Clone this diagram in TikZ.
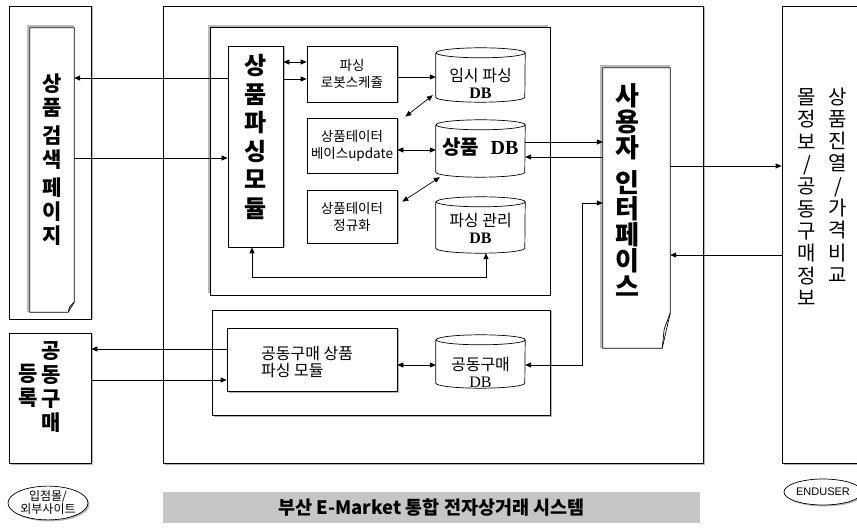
\documentclass[tikz,border=0pt]{standalone}
\usepackage{fontspec}
\setmainfont{Noto Sans CJK KR}
\newfontfamily\figmarketserif{Liberation Serif}
\newfontfamily\figmarketsans{Liberation Sans}
\usetikzlibrary{arrows.meta}
\usetikzlibrary{calc}
\usetikzlibrary{shapes.geometric}
\usetikzlibrary{shadows}

\begin{document}
\begin{tikzpicture}[x=1pt,y=-1pt,
        box/.style={draw,line width=0.7pt,fill=white,inner sep=0pt,align=center},
        boxshadow/.style={general shadow={fill=gray!55,shadow xshift=1.5pt,shadow yshift=-1.5pt}},
        frameshadow/.style={general shadow={fill=gray!55,shadow xshift=-2pt,shadow yshift=2pt}},
        ghost/.style={inner sep=0pt},
        txt/.style={inner sep=0pt,align=center},
        flow/.style={line width=0.7pt,-{Triangle[length=6pt,width=5pt]}},
        twoway/.style={line width=0.7pt,{Triangle[length=6pt,width=5pt]}-{Triangle[length=6pt,width=5pt]}}]
        \newcommand{\figmarketdbrad}{44.5pt}
        \newcommand{\figmarketdbcap}{5pt}
        \newcommand{\figmarketbig}{\bfseries\fontsize{24}{28.6}\selectfont}
        \newcommand{\figmarketui}{\bfseries\fontsize{26}{26}\selectfont}
        \newcommand{\figmarketside}{\bfseries\fontsize{21}{24}\selectfont}
        \newcommand{\figmarketcol}{\fontsize{20}{22.3}\selectfont}
        \newcommand{\figmarketsmall}{\fontsize{13.5}{17}\selectfont}
        \newcommand{\figmarketmid}{\fontsize{16}{17}\selectfont}
        \newcommand{\figmarketcylinder}[1]{%
            \draw[line width=0.7pt] ([yshift=-\figmarketdbcap]#1.north west) -- ([yshift=\figmarketdbcap]#1.south west)
                arc[start angle=180,end angle=360,x radius=\figmarketdbrad,y radius=\figmarketdbcap]
                -- ([yshift=-\figmarketdbcap]#1.north east)
                arc[start angle=0,end angle=180,x radius=\figmarketdbrad,y radius=\figmarketdbcap]
                arc[start angle=180,end angle=360,x radius=\figmarketdbrad,y radius=\figmarketdbcap];}
        \newcommand{\figmarketdocpage}[3]{%
            \draw[gray!55,line width=2.5pt] ([xshift=-1.8pt]#1.south west) -- ([xshift=-1.8pt,yshift=1.8pt]#1.north west) -- ([yshift=1.8pt]#1.north east);
            \draw[line width=0.7pt,fill=white] (#1.north west) -- (#1.north east) -- ([yshift=#3]#1.south east) -- ([xshift=-#2]#1.south east) -- (#1.south west) -- cycle;
            \draw[line width=0.7pt] ([yshift=#3]#1.south east) -- ([xshift=-0.75*#2,yshift=0.55*#3]#1.south east) -- ([xshift=-#2]#1.south east);}
        \path[use as bounding box,clip] (0,0) rectangle (857,529);
        % rows of the connectors
        \coordinate (rowsearchout) at (0,78);
        \coordinate (rowsearchin) at (0,158);
        \coordinate (rowrobota) at (0,62);
        \coordinate (rowrobotb) at (0,79);
        \coordinate (rowtemp) at (0,77);
        \coordinate (rowupdate) at (0,150);
        \coordinate (rowprodout) at (0,142);
        \coordinate (rowprodin) at (0,157);
        \coordinate (rowuiout) at (0,166);
        \coordinate (rowuiin) at (0,255);
        \coordinate (rowgbui) at (0,203);
        \coordinate (rowgbdb) at (0,365);
        \coordinate (rowregout) at (0,349);
        \coordinate (rowregin) at (0,380);
        \coordinate (rowmgmt) at (0,277);
        \coordinate (colgb) at (582,0);
        % outer boxes
        \node[box,boxshadow,minimum width=540pt,minimum height=457pt] (sysbox) at (433,234.5) {};
        \node[box,boxshadow,minimum width=82pt,minimum height=313pt] (searchouter) at (50,162.5) {};
        \node[box,boxshadow,minimum width=82pt,minimum height=130pt] (regbox) at (50,398) {};
        \node[box,boxshadow,minimum width=98pt,minimum height=457pt] (rightbox) at (831,234.5) {};
        \node[txt,font=\figmarketcol] (righttexta) at (838,185) {상\\품\\진\\열\\/\\가\\격\\비\\교};
        \node[txt,font=\figmarketcol] (righttextb) at (807,197) {몰\\정\\보\\/\\공\\동\\구\\매\\정\\보};
        \node[txt,font=\figmarketside] (regtexta) at (51,387) {공\\동\\구\\매};
        \node[txt,font=\figmarketside] (regtextb) at (28,386) {등\\록};
        % search page
        \node[ghost,minimum width=44pt,minimum height=284pt] (searchpage) at (52,170) {};
        \figmarketdocpage{searchpage}{6pt}{10pt}
        \node[txt,font=\figmarketside] (searchtext) at (52,160) {상\\품\\[4pt]검\\색\\[4pt]페\\이\\지};
        % parsing part
        \node[box,frameshadow,minimum width=340pt,minimum height=268pt] (upframe) at (380,161) {};
        \node[box,boxshadow,minimum width=55pt,minimum height=201pt] (parsemod) at (255.5,146.5) {};
        \node[txt,font=\figmarketbig] (parsetext) at (255.5,137) {상\\품\\파\\싱\\모\\듈};
        \node[box,boxshadow,minimum width=90pt,minimum height=56pt,font=\figmarketsmall] (robot) at (352,74) {파싱\\로봇스케쥴};
        \node[box,boxshadow,minimum width=90pt,minimum height=55pt,font=\figmarketsmall] (update) at (352,145.5) {상품테이터\\베이스update};
        \node[box,boxshadow,minimum width=90pt,minimum height=53pt,font=\figmarketsmall] (normal) at (352,216.5) {상품테이터\\정규화};
        \node[ghost,minimum width=89pt,minimum height=54pt] (tempdb) at (480.5,75) {};
        \node[ghost,minimum width=89pt,minimum height=57pt] (proddb) at (480.5,148.5) {};
        \node[ghost,minimum width=89pt,minimum height=56pt] (mgmtdb) at (480.5,225) {};
        \figmarketcylinder{tempdb}
        \figmarketcylinder{proddb}
        \figmarketcylinder{mgmtdb}
        \node[txt,font=\figmarketmid] (temptext) at ([yshift=-8pt]tempdb.center) {임시 파싱\\{\bfseries\figmarketserif DB}};
        \node[txt,font=\bfseries\fontsize{20}{20}\selectfont] (prodtext) at ([yshift=1pt]proddb.center) {상품\,\, {\figmarketserif DB}};
        \node[txt,font=\figmarketmid] (mgmttext) at ([yshift=-3.5pt]mgmtdb.center) {파싱 관리\\{\bfseries\figmarketserif DB}};
        % group buying part
        \node[box,boxshadow,minimum width=338pt,minimum height=105pt] (lowframe) at (381,362.5) {};
        \node[box,boxshadow,minimum width=170pt,minimum height=63pt] (gbmod) at (312,359.5) {};
        \node[txt,font=\figmarketmid,align=left,anchor=west] (gbmodtext) at (261,362.5) {공동구매 상품\\파싱 모듈};
        \node[ghost,minimum width=89pt,minimum height=53pt] (gbdb) at (480.5,361.5) {};
        \figmarketcylinder{gbdb}
        \node[txt,font=\figmarketmid] (gbdbtext) at ([yshift=-11pt]gbdb.center) {공동구매\\{\figmarketserif DB}};
        % user interface
        \node[ghost,minimum width=67pt,minimum height=280pt] (uipage) at (636.5,208) {};
        \figmarketdocpage{uipage}{8pt}{35pt}
        \node[txt,font=\figmarketui] (uitext) at (627,190) {사\\용\\자\\[9pt]인\\터\\페\\이\\스};
        % bottom labels
        \node[ellipse,draw,line width=0.7pt,boxshadow,fill=white,minimum width=80pt,minimum height=28pt,inner sep=0pt,align=center,
            font=\fontsize{12}{13}\selectfont] (mall) at (48,503) {입점몰/\\외부사이트};
        \node[ellipse,draw,line width=0.7pt,boxshadow,fill=white,minimum width=78pt,minimum height=26pt,inner sep=0pt,
            font=\figmarketsans\fontsize{11}{12}\selectfont] (enduser) at (823,492) {ENDUSER};
        \node[fill=gray!45,minimum width=537pt,minimum height=31pt,inner sep=0pt,
            font=\bfseries\fontsize{18.5}{20}\selectfont] (banner) at (431.5,507.5) {부산 E-Market 통합 전자상거래 시스템};
        % connectors
        \draw[flow] (parsemod.west |- rowsearchout) -- (searchpage.east |- rowsearchout);
        \draw[flow] (searchpage.east |- rowsearchin) -- (parsemod.west |- rowsearchin);
        \draw[twoway] (parsemod.east |- rowrobota) -- (robot.west |- rowrobota);
        \draw[flow] (parsemod.east |- rowrobotb) -- (robot.west |- rowrobotb);
        \draw[flow] (robot.east |- rowtemp) -- (tempdb.west |- rowtemp);
        \draw[twoway] ([xshift=-3pt,yshift=7pt]tempdb.south west) -- ([xshift=8pt,yshift=1pt]update.north east);
        \draw[twoway] (update.east |- rowupdate) -- (proddb.west |- rowupdate);
        \draw[twoway] ([xshift=5pt,yshift=-12pt]normal.north east) -- ([xshift=4pt]proddb.south west);
        \draw[twoway] ([xshift=-3.5pt]parsemod.south) |- ($(mgmtdb.south |- rowmgmt)+(5.5,0)$) -- ([xshift=5.5pt]mgmtdb.south);
        \draw[flow] (proddb.east |- rowprodout) -- (uipage.west |- rowprodout);
        \draw[flow] (uipage.west |- rowprodin) -- (proddb.east |- rowprodin);
        \draw[flow] (uipage.east |- rowuiout) -- (rightbox.west |- rowuiout);
        \draw[flow] (rightbox.west |- rowuiin) -- (uipage.east |- rowuiin);
        \draw[twoway] (gbdb.east |- rowgbdb) -| (colgb |- rowgbui) -- (uipage.west |- rowgbui);
        \draw[flow] (gbmod.west |- rowregout) -- (regbox.east |- rowregout);
        \draw[flow] (regbox.east |- rowregin) -- (gbmod.west |- rowregin);
        \draw[twoway] (gbmod.east |- rowgbdb) -- (gbdb.west |- rowgbdb);
    \end{tikzpicture}
\end{document}
